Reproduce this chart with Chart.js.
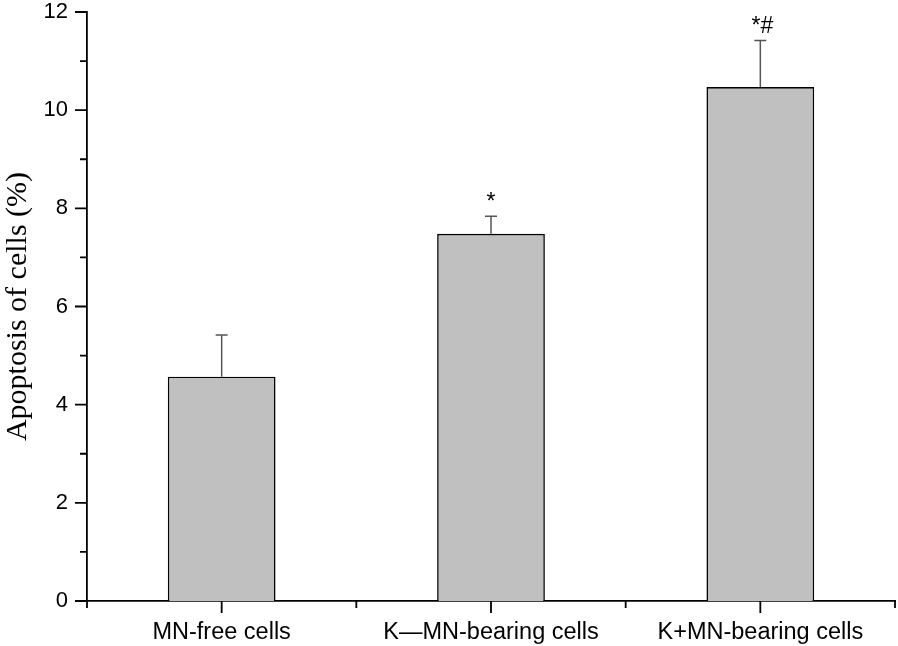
<!DOCTYPE html>
<html>
<head>
<meta charset="utf-8">
<script src="https://cdn.jsdelivr.net/npm/chart.js@4/dist/chart.umd.min.js"></script>
<style>
html,body{margin:0;padding:0;background:#fff;}
#wrap{width:898px;height:646px;position:relative;}
</style>
</head>
<body>
<div id="wrap"><canvas id="c"></canvas></div>
<script>
const categories = ["MN-free cells", "K\u2014MN-bearing cells", "K+MN-bearing cells"];
const values = [4.57, 7.48, 10.47];
const errors = [0.85, 0.36, 0.95];
const marks = ["", "*", "*#"];
const yTicks = [0, 2, 4, 6, 8, 10, 12];

const extras = {
  id: 'extras',
  afterDatasetsDraw(chart) {
    const ctx = chart.ctx;
    const y = chart.scales.y;
    const meta = chart.getDatasetMeta(0);
    ctx.save();
    ctx.strokeStyle = '#555';
    ctx.lineWidth = 1.5;
    meta.data.forEach((bar, i) => {
      const top = y.getPixelForValue(values[i] + errors[i]);
      const base = y.getPixelForValue(values[i]);
      ctx.beginPath();
      ctx.moveTo(bar.x, base);
      ctx.lineTo(bar.x, top);
      ctx.moveTo(bar.x - 6, top);
      ctx.lineTo(bar.x + 6, top);
      ctx.stroke();
      if (marks[i]) {
        ctx.fillStyle = '#000';
        ctx.font = '23px "Liberation Sans", Arial, sans-serif';
        ctx.textAlign = 'center';
        ctx.textBaseline = 'bottom';
        ctx.fillText(marks[i], bar.x + (marks[i].length > 1 ? 2 : 0), top - 2);
      }
    });
    ctx.restore();
  },
  afterDraw(chart) {
    const ctx = chart.ctx;
    const x = chart.scales.x, y = chart.scales.y;
    const area = chart.chartArea;
    ctx.save();
    ctx.strokeStyle = '#000';
    ctx.lineWidth = 1.8;
    ctx.beginPath();
    for (let v = 0; v <= 12; v++) {
      const py = y.getPixelForValue(v);
      const len = (v % 2 === 0) ? 12 : 7;
      ctx.moveTo(area.left, py);
      ctx.lineTo(area.left - len, py);
    }
    const n = categories.length;
    const w = (area.right - area.left) / n;
    for (let i = 0; i <= n; i++) {
      const px = area.left + i * w;
      ctx.moveTo(px, area.bottom);
      ctx.lineTo(px, area.bottom + 7);
    }
    for (let i = 0; i < n; i++) {
      const px = x.getPixelForValue(i);
      ctx.moveTo(px, area.bottom);
      ctx.lineTo(px, area.bottom + 12);
    }
    ctx.stroke();
    ctx.restore();
  }
};

new Chart(document.getElementById('c'), {
  type: 'bar',
  data: {
    labels: categories,
    datasets: [{
      data: values,
      backgroundColor: '#c0c0c0',
      borderColor: '#000',
      borderWidth: 1.6,
      barPercentage: 0.4,
      categoryPercentage: 1.0
    }]
  },
  options: {
    responsive: true,
    maintainAspectRatio: false,
    animation: false,
    layout: { padding: { left: 0, right: 3, top: 12, bottom: 0 } },
    plugins: { legend: { display: false }, tooltip: { enabled: false } },
    scales: {
      x: {
        grid: { display: false, drawTicks: false },
        border: { display: true, color: '#000', width: 1.8 },
        ticks: { color: '#000', padding: 17, font: { family: '"Liberation Sans", Arial, sans-serif', size: 23.5 }, maxRotation: 0 },
        afterFit(s) { s.height = 45; s.paddingLeft = 0; s.paddingRight = 0; }
      },
      y: {
        min: 0, max: 12,
        afterBuildTicks(s) { s.ticks = yTicks.map(v => ({ value: v })); },
        grid: { display: false, drawTicks: false },
        border: { display: true, color: '#000', width: 1.8 },
        ticks: { color: '#000', padding: 19, font: { family: '"Liberation Sans", Arial, sans-serif', size: 22 } },
        title: { display: true, text: 'Apoptosis of cells (%)', color: '#000', padding: { top: 0, bottom: 0 }, font: { family: '"Liberation Serif", "Times New Roman", serif', size: 30 } },
        afterFit(s) { s.width = 87; s.paddingTop = 0; s.paddingBottom = 0; }
      }
    }
  },
  plugins: [extras]
});
</script>
</body>
</html>
